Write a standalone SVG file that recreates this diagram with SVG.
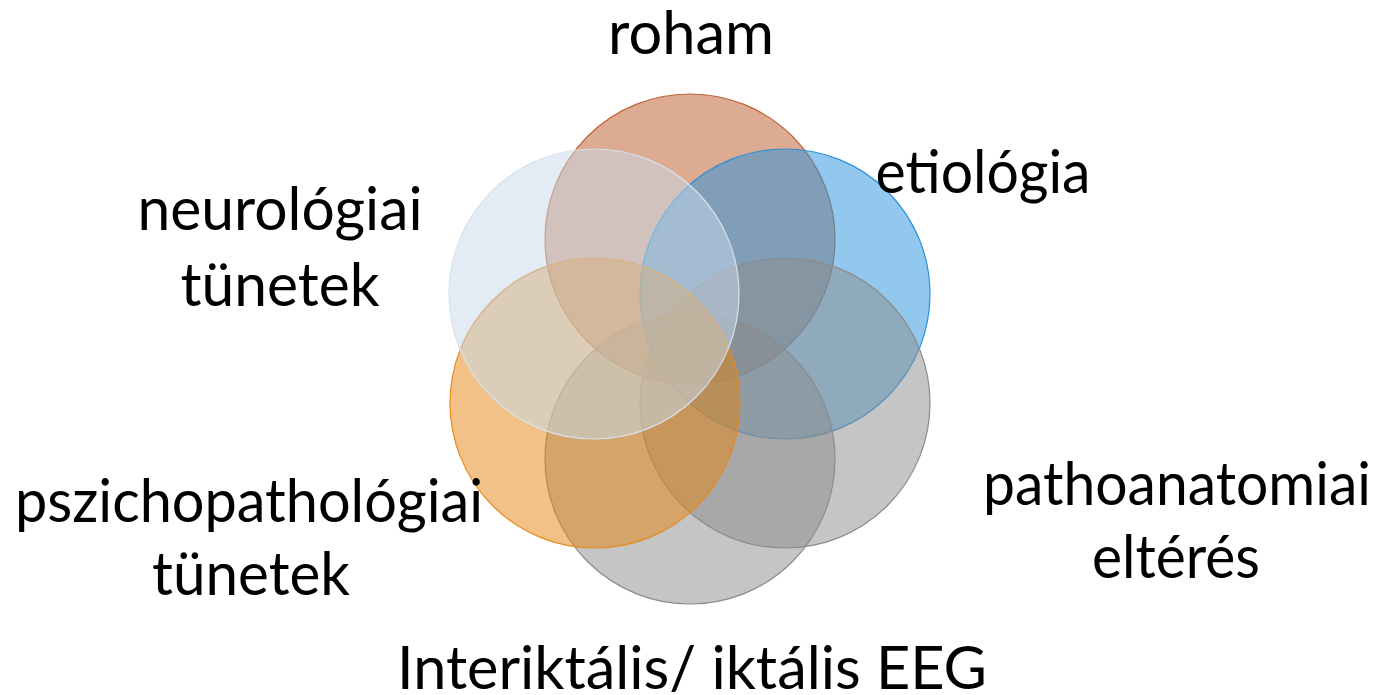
<svg xmlns="http://www.w3.org/2000/svg" width="1383" height="695" viewBox="0 0 1383 695">
  <style>
    .c { fill-opacity: 0.5; stroke-width: 1.2; }
    .t { font-family: Lato, "Open Sans", "Liberation Sans", sans-serif; font-size: 60px; fill: #000; text-anchor: middle; }
  </style>
  <rect width="1383" height="695" fill="#ffffff"/>
  <g id="connectors"></g>
  <g id="roham">
    <circle class="c" cx="690" cy="239" r="145" fill="#BB5525" stroke="#C0643A"/>
    <text class="t" x="691" y="54" textLength="166" lengthAdjust="spacingAndGlyphs">roham</text>
  </g>
  <g id="etiologia">
    <circle class="c" cx="785" cy="294" r="145" fill="#2591DD" stroke="#2A8FDB"/>
    <text class="t" x="983" y="193" textLength="215" lengthAdjust="spacingAndGlyphs">etiológia</text>
  </g>
  <g id="pathoanatomiai">
    <circle class="c" cx="785" cy="403" r="145" fill="#8B8B8B" stroke="#8B8B8B"/>
    <text class="t" x="1177" y="505" textLength="388" lengthAdjust="spacingAndGlyphs">pathoanatomiai</text>
    <text class="t" x="1176" y="578" textLength="168" lengthAdjust="spacingAndGlyphs">eltérés</text>
  </g>
  <g id="eeg">
    <circle class="c" cx="690" cy="459" r="145" fill="#8B8B8B" stroke="#8B8B8B"/>
    <text class="t" x="692" y="689" textLength="590" lengthAdjust="spacingAndGlyphs">Interiktális/ iktális EEG</text>
  </g>
  <g id="pszichopathologiai">
    <circle class="c" cx="595" cy="403" r="145" fill="#E3830F" stroke="#E8891A"/>
    <text class="t" x="249" y="522" textLength="468" lengthAdjust="spacingAndGlyphs">pszichopathológiai</text>
    <text class="t" x="251" y="595" textLength="198" lengthAdjust="spacingAndGlyphs">tünetek</text>
  </g>
  <g id="neurologiai">
    <circle class="c" cx="594" cy="294" r="145" fill="#C7D9E9" stroke="#D6E3EE"/>
    <text class="t" x="280" y="230" textLength="285" lengthAdjust="spacingAndGlyphs">neurológiai</text>
    <text class="t" x="280" y="306" textLength="199" lengthAdjust="spacingAndGlyphs">tünetek</text>
  </g>
</svg>
